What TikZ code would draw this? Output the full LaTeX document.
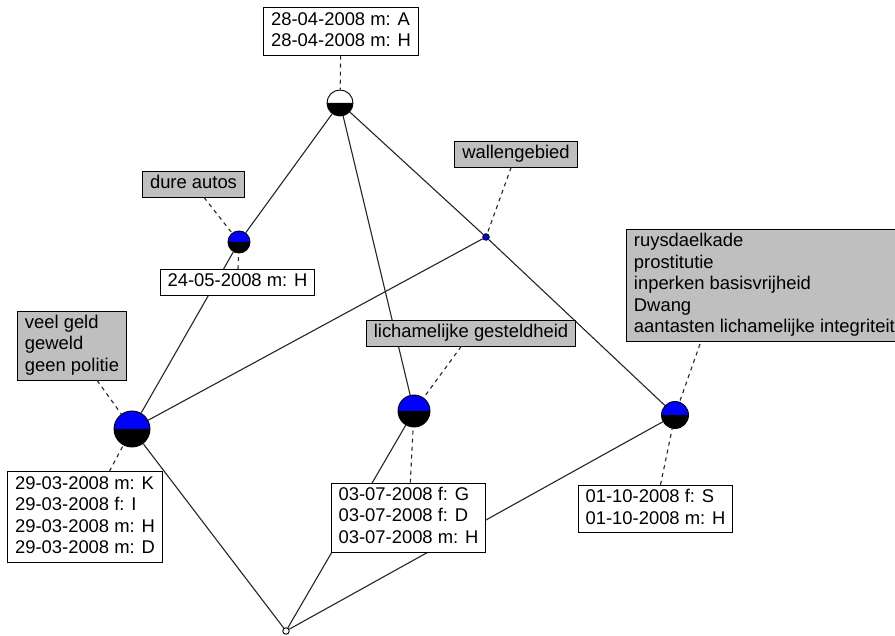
\documentclass[tikz,border=0pt]{standalone}
\usepackage{fontspec}
\setmainfont{Liberation Sans}
\newcommand\halfball[4]{%
  \fill[#4] (#2) ++(-#3,0) arc[start angle=180,end angle=360,radius=#3] -- cycle;
  \fill[black] (#2) ++(#3,0) arc[start angle=0,end angle=180,radius=#3] -- cycle;
  \node[ballring,minimum size=2*#3] (#1) at (#2) {};}
\begin{document}
\begin{tikzpicture}[x=1pt,y=-1pt,
  ballring/.style={circle,draw=black,line width=0.9pt,inner sep=0pt},
  lbl/.style={draw=black,line width=0.9pt,align=left,inner xsep=7.5pt,inner ysep=2.25pt,
    font=\fontsize{18.4}{21.5}\selectfont,text=black},
  attr/.style={lbl,fill=black!25},
  obj/.style={lbl,fill=white},
  edge/.style={line width=1.1pt,black!85},
  lead/.style={line width=1.1pt,black!85,dash pattern=on 4pt off 4pt}]
\useasboundingbox (0,0) rectangle (895,636);
\fill[white] (0,0) rectangle (895,636);
% concept nodes
\halfball{A}{340,103}{13}{white}
\halfball{B}{239,242}{11}{blue}
\halfball{D}{132,429}{18}{blue}
\halfball{E}{414,411}{16}{blue}
\halfball{F}{675,415}{13.5}{blue}
\node[ballring,fill=blue,minimum size=6.5pt] (C) at (486,237) {};
\node[ballring,fill=white,minimum size=6.5pt] (G) at (286,631) {};
% lattice edges
\draw[edge] (A) -- (B);
\draw[edge] (A) -- (E);
\draw[edge] (A) -- (C);
\draw[edge] (C) -- (F);
\draw[edge] (B) -- (D);
\draw[edge] (C) -- (D);
\draw[edge] (D) -- (G);
\draw[edge] (E) -- (G);
\draw[edge] (F) -- (G);
% labels
\node[obj] (tA) at (341,31.5) {\strut 28-04-2008 m: A\\\strut 28-04-2008 m: H};
\node[attr] (aB) at (193.5,184) {\strut dure autos};
\node[obj] (oB) at (237.5,282.5) {\strut 24-05-2008 m: H};
\node[attr] (aC) at (516,154) {\strut wallengebied};
\node[attr] (aD) at (72,345.5) {\strut veel geld\\\strut geweld\\\strut geen politie};
\node[obj] (oD) at (85,517) {\strut 29-03-2008 m: K\\\strut 29-03-2008 f: I\\\strut 29-03-2008 m: H\\\strut 29-03-2008 m: D};
\node[attr] (aE) at (471,333) {\strut lichamelijke gesteldheid};
\node[obj] (oE) at (408.5,517.5) {\strut 03-07-2008 f: G\\\strut 03-07-2008 f: D\\\strut 03-07-2008 m: H};
\node[attr,anchor=north west] (aF) at (626,229) {\strut ruysdaelkade\\\strut prostitutie\\\strut inperken basisvrijheid\\\strut Dwang\\\strut aantasten lichamelijke integriteit};
\node[obj] (oF) at (655.5,509) {\strut 01-10-2008 f: S\\\strut 01-10-2008 m: H};
\coordinate (aFfoot) at (700,344);
% label leads
\draw[lead] (tA) -- (A);
\draw[lead] (aB) -- (B);
\draw[lead] (oB) -- (B);
\draw[lead] (aC) -- (C);
\draw[lead] (aD) -- (D);
\draw[lead] (oD) -- (D);
\draw[lead] (aE) -- (E);
\draw[lead] (oE) -- (E);
\draw[lead] (aFfoot) -- (F);
\draw[lead] (oF) -- (F);
\end{tikzpicture}
\end{document}
